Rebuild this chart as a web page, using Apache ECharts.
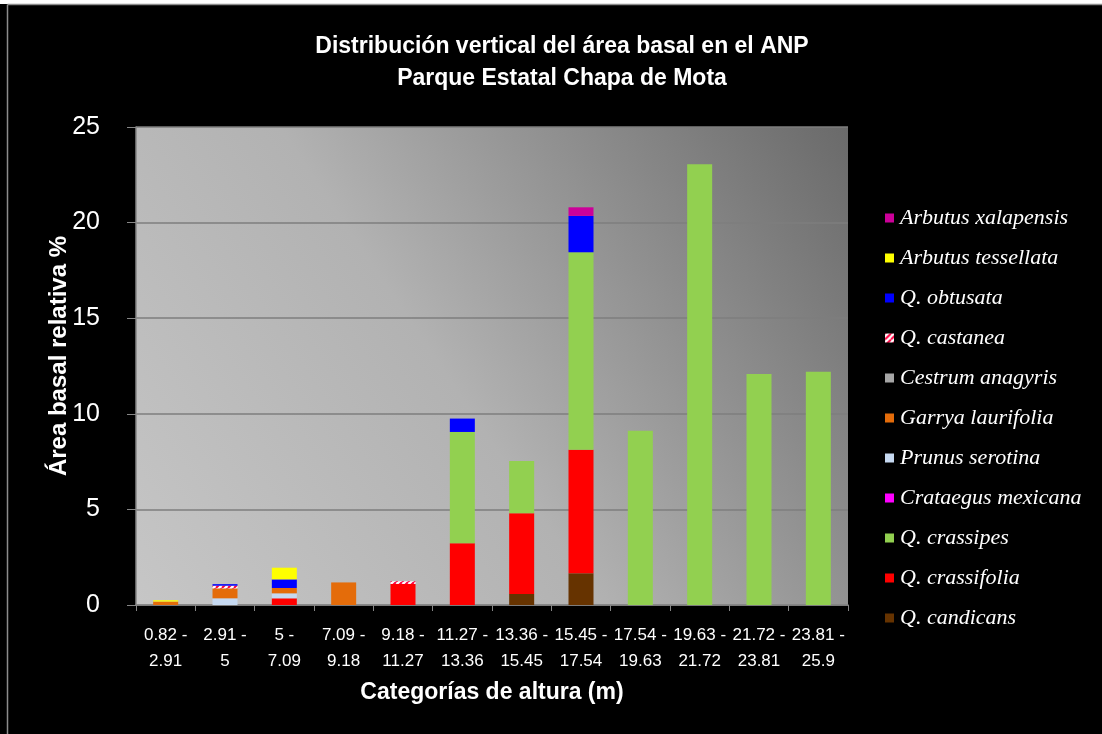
<!DOCTYPE html>
<html>
<head>
<meta charset="utf-8">
<title>Distribución vertical del área basal</title>
<script src="https://cdn.jsdelivr.net/npm/echarts@6/dist/echarts.min.js"></script>
<style>
  html, body { margin: 0; padding: 0; background: #000; }
  #chart { width: 1102px; height: 734px; }
</style>
</head>
<body>
<div id="chart"></div>
<script>
// Height classes (m)
const categories = [
  '0.82 -\n2.91', '2.91 -\n5', '5 -\n7.09', '7.09 -\n9.18', '9.18 -\n11.27',
  '11.27 -\n13.36', '13.36 -\n15.45', '15.45 -\n17.54', '17.54 -\n19.63',
  '19.63 -\n21.72', '21.72 -\n23.81', '23.81 -\n25.9'
];

// Relative basal area (%) per species and height class
const qCandicans        = [0, 0, 0, 0, 0, 0, 0.58, 1.66, 0, 0, 0, 0];
const qCrassifolia      = [0, 0, 0.35, 0, 1.10, 3.23, 4.22, 6.46, 0, 0, 0, 0];
const qCrassipes        = [0, 0, 0, 0, 0, 5.82, 2.73, 10.33, 9.12, 23.05, 12.08, 12.20];
const crataegusMexicana = [0, 0, 0, 0, 0, 0, 0, 0, 0, 0, 0, 0];
const prunusSerotina    = [0, 0.35, 0.26, 0, 0, 0, 0, 0, 0, 0, 0, 0];
const garryaLaurifolia  = [0.18, 0.52, 0.28, 1.18, 0, 0, 0, 0, 0, 0, 0, 0];
const cestrumAnagyris   = [0, 0, 0, 0, 0, 0, 0, 0, 0, 0, 0, 0];
const qCastanea         = [0, 0.14, 0, 0, 0.14, 0, 0, 0, 0, 0, 0, 0];
const qObtusata         = [0, 0.08, 0.45, 0, 0, 0.70, 0, 1.90, 0, 0, 0, 0];
const arbutusTessellata = [0.07, 0, 0.61, 0, 0, 0, 0, 0, 0, 0, 0, 0];
const arbutusXalapensis = [0, 0, 0, 0, 0, 0, 0, 0.45, 0, 0, 0, 0];

const yTicks = [0, 5, 10, 15, 20, 25];

// Diagonal hatch fill for Q. castanea
function hatch() {
  const c = document.createElement('canvas');
  c.width = 6; c.height = 6;
  const g = c.getContext('2d');
  g.fillStyle = '#ffffff';
  g.fillRect(0, 0, 6, 6);
  g.strokeStyle = '#ff0040';
  g.lineWidth = 2;
  g.beginPath();
  for (let k = -6; k <= 12; k += 6) {
    g.moveTo(k, 6); g.lineTo(k + 6, 0);
  }
  g.stroke();
  return { image: c, repeat: 'repeat' };
}

// Stack order, bottom to top
const stack = [
  { name: 'Q. candicans',       data: qCandicans,        color: '#663300' },
  { name: 'Q. crassifolia',     data: qCrassifolia,      color: '#ff0000' },
  { name: 'Q. crassipes',       data: qCrassipes,        color: '#92d050' },
  { name: 'Crataegus mexicana', data: crataegusMexicana, color: '#ff00ff' },
  { name: 'Prunus serotina',    data: prunusSerotina,    color: '#c6d9f1' },
  { name: 'Garrya laurifolia',  data: garryaLaurifolia,  color: '#e46c0a' },
  { name: 'Cestrum anagyris',   data: cestrumAnagyris,   color: '#a6a6a6' },
  { name: 'Q. castanea',        data: qCastanea,         color: hatch() },
  { name: 'Q. obtusata',        data: qObtusata,         color: '#0000ff' },
  { name: 'Arbutus tessellata', data: arbutusTessellata, color: '#ffff00' },
  { name: 'Arbutus xalapensis', data: arbutusXalapensis, color: '#cc0099' }
];

const sansFont = "'Liberation Sans', Arial, sans-serif";
const serifFont = "'Liberation Serif', 'Times New Roman', serif";

const chart = echarts.init(document.getElementById('chart'), null, { renderer: 'canvas' });

chart.setOption({
  backgroundColor: '#000000',
  animation: false,
  graphic: [
    { type: 'rect', shape: { x: 0, y: 0, width: 1102, height: 4 }, style: { fill: '#ffffff' }, silent: true },
    { type: 'line', shape: { x1: 7.5, y1: 4.5, x2: 1102, y2: 4.5 }, style: { stroke: '#8c8c8c', lineWidth: 1.5 }, silent: true },
    { type: 'line', shape: { x1: 7.5, y1: 4.5, x2: 7.5, y2: 734 }, style: { stroke: '#8c8c8c', lineWidth: 1.5 }, silent: true }
  ],
  title: {
    text: 'Distribución vertical del área basal en el ANP\nParque Estatal Chapa de Mota',
    left: 557,
    top: 26,
    textAlign: 'center',
    textStyle: {
      color: '#ffffff',
      fontFamily: sansFont,
      fontWeight: 'bold',
      fontSize: 23,
      lineHeight: 32
    }
  },
  legend: {
    orient: 'vertical',
    left: 880,
    top: 202,
    icon: 'rect',
    itemWidth: 9,
    itemHeight: 9,
    itemGap: 18,
    data: stack.map(s => s.name).reverse(),
    textStyle: {
      color: '#ffffff',
      fontFamily: serifFont,
      fontStyle: 'italic',
      fontSize: 22,
      lineHeight: 22,
      padding: [0, 0, 0, 1]
    }
  },
  grid: {
    left: 136,
    right: 254,
    top: 127,
    bottom: 129,
    show: true,
    borderWidth: 0,
    backgroundColor: new echarts.graphic.LinearGradient(0, 1, 1, 0, [
      { offset: 0, color: '#c6c6c6' },
      { offset: 0.45, color: '#b2b2b2' },
      { offset: 1, color: '#6a6a6a' }
    ])
  },
  xAxis: {
    type: 'category',
    data: categories,
    name: 'Categorías de altura (m)',
    nameLocation: 'middle',
    nameGap: 76,
    nameTextStyle: { color: '#ffffff', fontFamily: sansFont, fontWeight: 'bold', fontSize: 23 },
    axisLine: { lineStyle: { color: '#868686', width: 1.5 } },
    axisTick: { show: true, length: 6, lineStyle: { color: '#868686' } },
    axisLabel: {
      color: '#ffffff',
      fontFamily: sansFont,
      fontSize: 17,
      lineHeight: 26,
      margin: 17,
      interval: 0
    }
  },
  yAxis: {
    type: 'value',
    min: yTicks[0],
    max: yTicks[yTicks.length - 1],
    interval: yTicks[1] - yTicks[0],
    name: 'Área basal relativa %',
    nameLocation: 'middle',
    nameGap: 65,
    nameMoveOverlap: false,
    nameTextStyle: {
      color: '#ffffff', fontFamily: sansFont, fontWeight: 'bold', fontSize: 24,
      padding: [0, 0, 0, 20]
    },
    axisLine: { show: true, lineStyle: { color: '#868686', width: 1.5 } },
    axisTick: { show: true, length: 9, lineStyle: { color: '#868686' } },
    splitLine: { show: true, lineStyle: { color: '#7e7e7e', width: 1.5 } },
    axisLabel: {
      color: '#ffffff',
      fontFamily: sansFont,
      fontSize: 25,
      margin: 36
    }
  },
  series: stack.map(s => ({
    name: s.name,
    type: 'bar',
    stack: 'total',
    barWidth: 25,
    data: s.data,
    itemStyle: { color: s.color }
  }))
});
</script>
</body>
</html>
